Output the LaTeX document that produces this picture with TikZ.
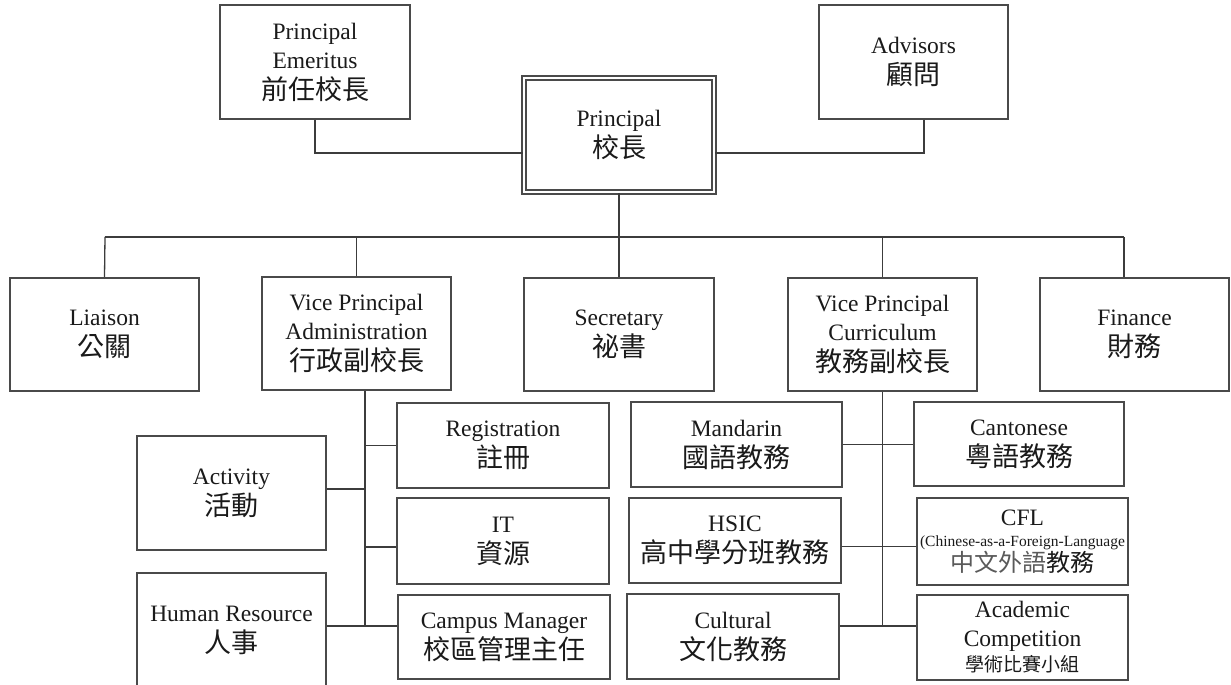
\documentclass[tikz,border=0pt]{standalone}
\usepackage{fontspec}
\setmainfont{Liberation Serif}
\newfontfamily\cjkfont{Noto Sans CJK TC}
\definecolor{lc}{HTML}{3C3C3C}
\definecolor{bc}{HTML}{4A4A4A}
\definecolor{tc}{HTML}{1A1A1A}
\definecolor{lightzh}{HTML}{5A5A5A}
\newcommand\entxt{\fontsize{23.5}{29}\selectfont}
\newcommand\zhtxt{\cjkfont\fontsize{27}{32}\selectfont}
\newcommand\zhsmall{\cjkfont\fontsize{24}{28}\selectfont}
\newcommand\zhtiny{\cjkfont\fontsize{19}{24}\selectfont}
\newcommand\cfltxt{\fontsize{15.5}{19}\selectfont}
\tikzset{
  box/.style={draw=bc, line width=1.6pt, rectangle, inner sep=0pt, align=center, text=tc, font=\entxt},
  conn/.style={draw=lc, line width=1.3pt},
}
\begin{document}
\begin{tikzpicture}[x=1pt,y=-1pt]
\useasboundingbox (0,0) rectangle (1231,685);
\fill[white] (0,0) rectangle (1231,685);

% top level
\node[box, minimum width=190, minimum height=114] (emer) at (315,62) {Principal\\Emeritus\\[2pt]{\zhtxt 前任校長}};
\node[box, minimum width=189, minimum height=114] (adv) at (913.5,62) {Advisors\\[2pt]{\zhtxt 顧問}};
\node[box, draw=bc, line width=1.5pt, double=white, double distance=2.5pt, minimum width=190, minimum height=114] (prin) at (619,135) {Principal\\[2pt]{\zhtxt 校長}};

% second level
\node[box, minimum width=189, minimum height=113] (liaison) at (104.5,334.5) {Liaison\\[2pt]{\zhtxt 公關}};
\node[box, minimum width=189, minimum height=113] (vpa) at (356.5,333.5) {Vice Principal\\Administration\\[2pt]{\zhtxt 行政副校長}};
\node[box, minimum width=190, minimum height=113] (sec) at (619,334.5) {Secretary\\[2pt]{\zhtxt 祕書}};
\node[box, minimum width=189, minimum height=113] (vpc) at (882.5,334.5) {Vice Principal\\Curriculum\\[2pt]{\zhtxt 教務副校長}};
\node[box, minimum width=189, minimum height=113] (fin) at (1134.5,334.5) {Finance\\[2pt]{\zhtxt 財務}};

% admin branch
\node[box, minimum width=212, minimum height=85] (reg) at (503,445.5) {Registration\\[2pt]{\zhtxt 註冊}};
\node[box, minimum width=212, minimum height=86] (it) at (503,541) {IT\\[2pt]{\zhtxt 資源}};
\node[box, minimum width=212, minimum height=84] (camp) at (504,637) {Campus Manager\\[2pt]{\zhtxt 校區管理主任}};
\node[box, minimum width=189, minimum height=114] (act) at (231.5,493) {Activity\\[2pt]{\zhtxt 活動}};
\node[box, minimum width=189, minimum height=115] (hr) at (231.5,630.5) {Human Resource\\[2pt]{\zhtxt 人事}};

% curriculum branch
\node[box, minimum width=211, minimum height=85] (mand) at (736.5,444.5) {Mandarin\\[2pt]{\zhtxt 國語教務}};
\node[box, minimum width=212, minimum height=85] (hsic) at (735,540.5) {HSIC\\[2pt]{\zhtxt 高中學分班教務}};
\node[box, minimum width=212, minimum height=85] (cult) at (733,636.5) {Cultural\\[2pt]{\zhtxt 文化教務}};
\node[box, minimum width=210, minimum height=84] (cant) at (1019,444) {Cantonese\\[2pt]{\zhtxt 粵語教務}};
\node[box, minimum width=211, minimum height=87] (cfl) at (1022.5,541.5) {CFL\\[-8pt]{\cfltxt (Chinese-as-a-Foreign-Language}\\[-4pt]{\zhsmall{\color{lightzh}中文外語}教務}};
\node[box, minimum width=211, minimum height=85] (acad) at (1022.5,637.5) {Academic\\Competition\\[-4pt]{\zhtiny 學術比賽小組}};

% coordinates
\coordinate (topbar) at (0,153);
\coordinate (busL) at (105,237);
\coordinate (busR) at (1124,237);
\coordinate (aSp) at (365,0);
\coordinate (aBot) at (365,626);
\coordinate (cBot) at (883,626);

% top connectors
\draw[conn] (emer.south) -- (emer.south |- topbar) -- (prin.west |- topbar);
\draw[conn] ([xshift=10.5pt]adv.south) -- ([xshift=10.5pt]adv.south |- topbar) -- (prin.east |- topbar);
\draw[conn] (prin.south) -- (prin.south |- busL);
\draw[conn] (busL) -- (busR);
\draw[conn] (busL) -- (liaison.north);
\draw[conn] (vpa.north |- busL) -- (vpa.north);
\draw[conn] (sec.north |- busL) -- (sec.north);
\draw[conn] (vpc.north |- busL) -- (vpc.north);
\draw[conn] (busR) -- (busR |- fin.north);

% admin connectors
\draw[conn] (vpa.south -| aSp) -- (aBot);
\draw[conn] (reg.west -| aSp) -- (reg.west);
\draw[conn] ([yshift=4pt]act.east) -- ([yshift=4pt]act.east -| aSp);
\draw[conn] ([yshift=-6pt]it.west -| aSp) -- ([yshift=-6pt]it.west);
\draw[conn] (hr.east |- aBot) -- (camp.west |- aBot);

% curriculum connectors
\draw[conn] (vpc.south) -- (vpc.south |- cBot);
\draw[conn] (mand.east) -- (cant.west |- mand.east);
\draw[conn] ([yshift=-6pt]hsic.east) -- ([yshift=-6pt]hsic.east -| cfl.west);
\draw[conn] (cult.east |- cBot) -- (acad.west |- cBot);
\end{tikzpicture}
\end{document}
